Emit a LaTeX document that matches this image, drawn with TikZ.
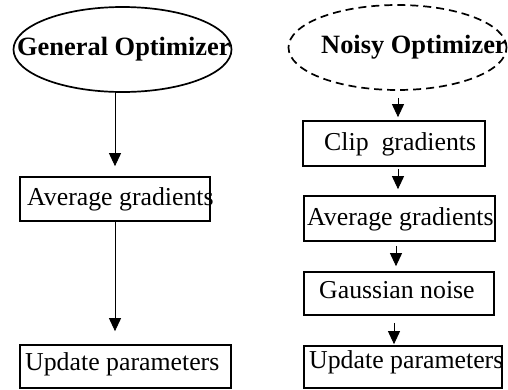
\documentclass[tikz,border=0pt]{standalone}
\usepackage{fontspec}
\setmainfont{Liberation Serif}
\usetikzlibrary{arrows.meta,shapes.geometric,calc}
\begin{document}
\begin{tikzpicture}[x=1pt,y=-1pt,
 box/.style={draw, line width=1.7pt, inner sep=0pt},
 oval/.style={draw, ellipse, line width=1.7pt, inner sep=0pt, minimum width=218pt, minimum height=85pt},
 lbl/.style={inner sep=0pt, anchor=base west, font=\fontsize{25.8}{30}\selectfont},
 blbl/.style={inner sep=0pt, anchor=base west, font=\fontsize{26.4}{30}\selectfont\bfseries},
 arr/.style={line width=0.9pt, -{Triangle[length=13pt,width=12pt]}},
]
\useasboundingbox (0,0) rectangle (508,389);
% left column
\node[oval] (ellL) at (122.5,49.5) {};
\node[blbl] (tL) at (17,55) {General Optimizer};
\node[box, minimum width=190pt, minimum height=44pt] (avgL) at (115,199) {};
\node[lbl] (tavgL) at (27,205) {Average gradients};
\node[box, minimum width=211pt, minimum height=43pt] (updL) at (125.5,366.5) {};
\node[lbl] (tupdL) at (25,370) {Update parameters};
% right column
\node[oval, dash pattern=on 8pt off 5pt] (ellR) at (397.5,47.5) {};
\node[blbl] (tR) at (321,53) {Noisy Optimizer};
\node[box, minimum width=182pt, minimum height=45pt] (clip) at (394,143.5) {};
\node[lbl] (tclip) at (324,150) {Clip\ \ gradients};
\node[box, minimum width=191pt, minimum height=45pt] (avgR) at (399.5,218.5) {};
\node[lbl] (tavgR) at (307,225) {Average gradients};
\node[box, minimum width=190pt, minimum height=43pt] (gauss) at (399,293.5) {};
\node[lbl] (tgauss) at (319,298) {Gaussian noise};
\node[box, minimum width=198pt, minimum height=42pt] (updR) at (403,367) {};
\node[lbl] (tupdR) at (309,368) {Update parameters};
% connectors
\draw[arr] (avgL.north |- ellL.south) -- ($(avgL.north)+(0,-10)$);
\draw[arr] (avgL.south) -- ($(avgL.south |- updL.north)+(0,-13)$);
\draw[arr] ($(ellR.south -| clip.north)+(4,7)$) -- ($(clip.north)+(4,-3)$);
\draw[arr] ($(clip.south)+(4,2)$) -- ($(avgR.north -| clip.south)+(4,-6)$);
\draw[arr] ($(avgR.south)+(-3.5,4)$) -- ($(gauss.north -| avgR.south)+(-3.5,-5)$);
\draw[arr] ($(gauss.south)+(-5,7)$) -- ($(updR.north -| gauss.south)+(-5,-1)$);
\end{tikzpicture}
\end{document}
